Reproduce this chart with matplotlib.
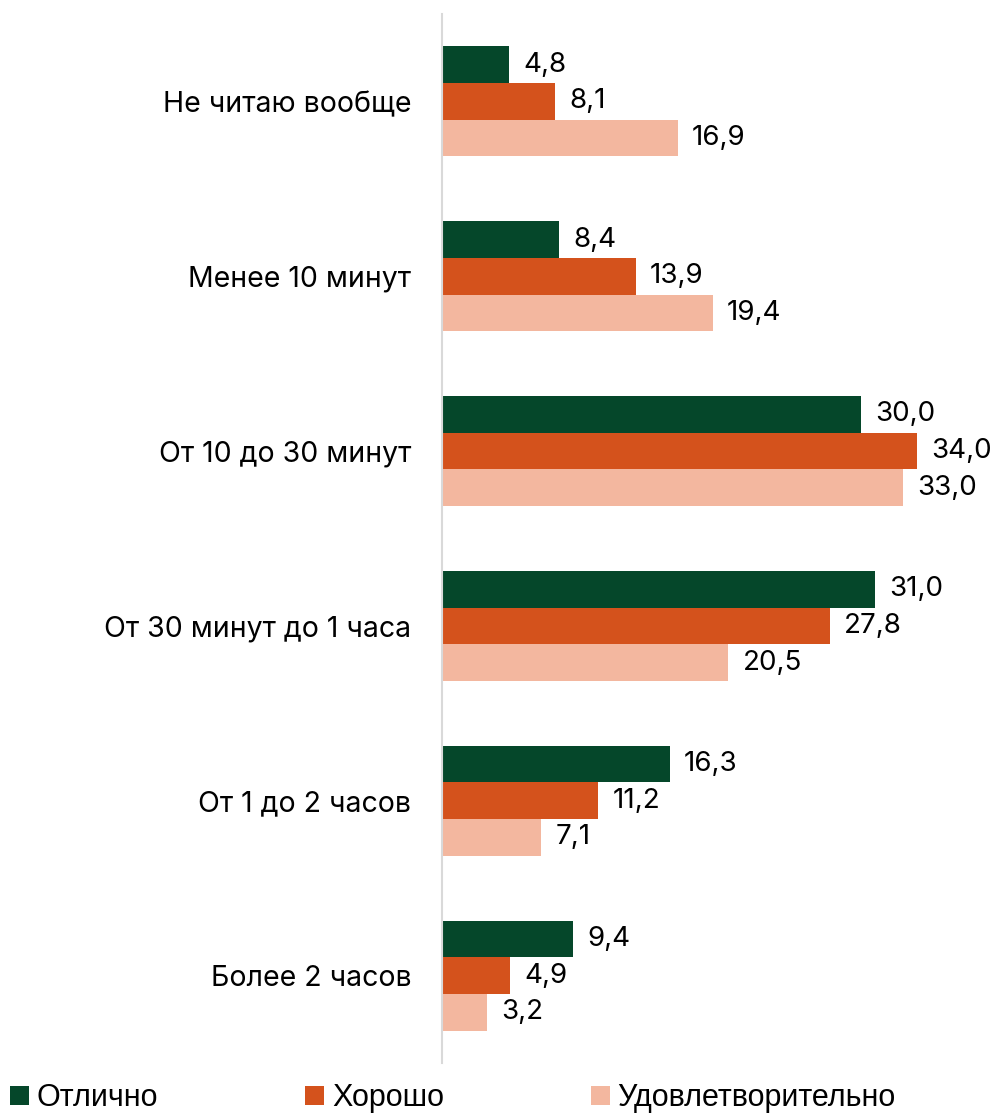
import matplotlib
matplotlib.use("Agg")
import matplotlib.pyplot as plt
from matplotlib.patches import Patch
import numpy as np

categories = ["Не читаю вообще", "Менее 10 минут", "От 10 до 30 минут",
              "От 30 минут до 1 часа", "От 1 до 2 часов", "Более 2 часов"]
series_names = ["Отлично", "Хорошо", "Удовлетворительно"]
otlichno = [4.8, 8.4, 30.0, 31.0, 16.3, 9.4]
khorosho = [8.1, 13.9, 34.0, 27.8, 11.2, 4.9]
udovl = [16.9, 19.4, 33.0, 20.5, 7.1, 3.2]
colors = ["#05472A", "#D4521C", "#F3B79F"]

W, H = 995, 1113
fig = plt.figure(figsize=(W / 100, H / 100), dpi=100)
ax = fig.add_axes([442 / W, 1 - 1063 / H, 548 / W, 1049 / H])

font = ["Inter", "DejaVu Sans"]
n = len(categories)
y = np.arange(n)
bh = 0.21
for i, (vals, c) in enumerate(zip([otlichno, khorosho, udovl], colors)):
    pos = y + (i - 1) * bh
    ax.barh(pos, vals, height=bh, color=c, edgecolor="none")
    for p, v in zip(pos, vals):
        ax.annotate(f"{v:.1f}".replace(".", ","), (v, p), xytext=(14, 0),
                    textcoords="offset pixels", va="center", ha="left",
                    fontsize=20, family=font, color="#000000")

ax.set_ylim(n - 0.5, -0.5)
ax.set_xlim(0, 548 / 13.97)
ax.set_yticks(y)
ax.set_yticklabels(categories, fontsize=20.5, family=font)
ax.tick_params(axis="y", length=0, pad=22)
ax.set_xticks([])
for s in ["top", "right", "bottom"]:
    ax.spines[s].set_visible(False)
ax.spines["left"].set_color("#D9D9D9")
ax.spines["left"].set_linewidth(1.5)

handles = [Patch(facecolor=c, edgecolor="none") for c in colors]
leg = fig.legend(handles, series_names, loc="lower left",
                 bbox_to_anchor=(10 / W, 0 / H), ncol=3, frameon=False,
                 handlelength=0.62, handleheight=0.6, handletextpad=0.26,
                 columnspacing=4.8, borderpad=0, borderaxespad=0,
                 prop={"family": ["Liberation Sans", "DejaVu Sans"], "size": 22})

fig.savefig("out.png", dpi=100)
